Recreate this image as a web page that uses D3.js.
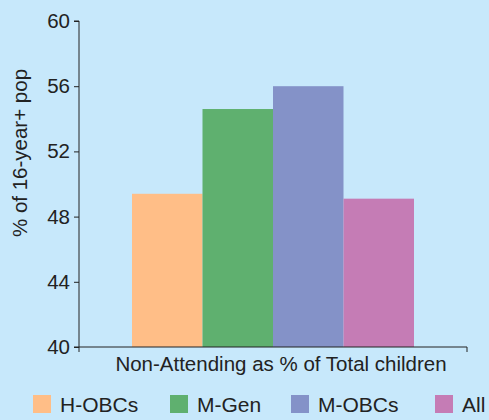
<html>
<head>
  <script src="https://d3js.org/d3.v7.min.js"></script>
  <style>
    body { margin: 0; background: #c7e8fb; }
    .axis path, .axis line { stroke: #222; }
  </style>
</head>
<body>
  <svg id="bargraph" width="489" height="420"></svg>
  <script>
    const categories = ['H-OBCs', 'M-Gen', 'M-OBCs', 'All'];
    const values = [49.4, 54.6, 56.0, 49.1];
    const colors = ['#ffbe87', '#5fb06f', '#8492c8', '#c57cb5'];
    const yTicks = [40, 44, 48, 52, 56, 60];
    const groupLabel = 'Non-Attending as % of Total children';

    const svg = d3.select('svg#bargraph');
    const margins = { top: 21, right: 22, bottom: 73, left: 79 };
    const chartWidth = 489 - margins.left - margins.right;
    const chartHeight = 420 - margins.top - margins.bottom;

    svg.append('rect').attr('width', 489).attr('height', 420).attr('fill', '#c7e8fb');

    const chartArea = svg.append('g')
      .attr('transform', `translate(${margins.left},${margins.top})`);

    const xScale = d3.scaleBand()
      .domain(categories)
      .range([53, chartWidth - 53])
      .padding(0);

    const yScale = d3.scaleLinear()
      .domain([40, 60])
      .range([chartHeight, 0]);

    chartArea.selectAll('rect.bar').data(categories)
      .join('rect')
      .attr('class', 'bar')
      .attr('x', d => xScale(d))
      .attr('width', xScale.bandwidth())
      .attr('y', (d, i) => yScale(values[i]))
      .attr('height', (d, i) => chartHeight - yScale(values[i]))
      .attr('fill', (d, i) => colors[i]);

    const leftAxis = d3.axisLeft(yScale).tickValues(yTicks).tickSize(5).tickPadding(4);
    chartArea.append('g')
      .attr('class', 'axis')
      .call(leftAxis)
      .call(g => g.select('.domain').attr('d', `M-5,0H0V${chartHeight}H-5`))
      .call(g => g.selectAll('text')
        .style('font-family', 'Liberation Sans')
        .style('font-size', '20.5px')
        .style('fill', '#222'));

    // bottom axis line with a small end tick
    chartArea.append('path')
      .attr('d', `M0,${chartHeight + 5}V${chartHeight}H${chartWidth}V${chartHeight + 5}`)
      .attr('fill', 'none')
      .attr('stroke', '#222');

    chartArea.append('text')
      .text(groupLabel)
      .attr('x', chartWidth / 2 + 8)
      .attr('y', chartHeight + 24)
      .attr('text-anchor', 'middle')
      .style('font-family', 'Liberation Sans')
      .style('font-size', '20.5px')
      .style('fill', '#222');

    svg.append('text')
      .attr('transform', 'translate(27, 153) rotate(-90)')
      .text('% of 16-year+ pop')
      .attr('text-anchor', 'middle')
      .style('font-family', 'Liberation Sans')
      .style('font-size', '20.5px')
      .style('fill', '#222');

    const legendX = [33, 170, 291, 435];
    const legend = svg.selectAll('g.legend').data(categories)
      .join('g')
      .attr('class', 'legend')
      .attr('transform', (d, i) => `translate(${legendX[i]}, 395)`);

    legend.append('rect')
      .attr('width', 18).attr('height', 18)
      .attr('fill', (d, i) => colors[i]);

    legend.append('text')
      .text(d => d)
      .attr('x', 27)
      .attr('y', 17)
      .style('font-family', 'Liberation Sans')
      .style('font-size', '21px')
      .style('fill', '#222');
  </script>
</body>
</html>
